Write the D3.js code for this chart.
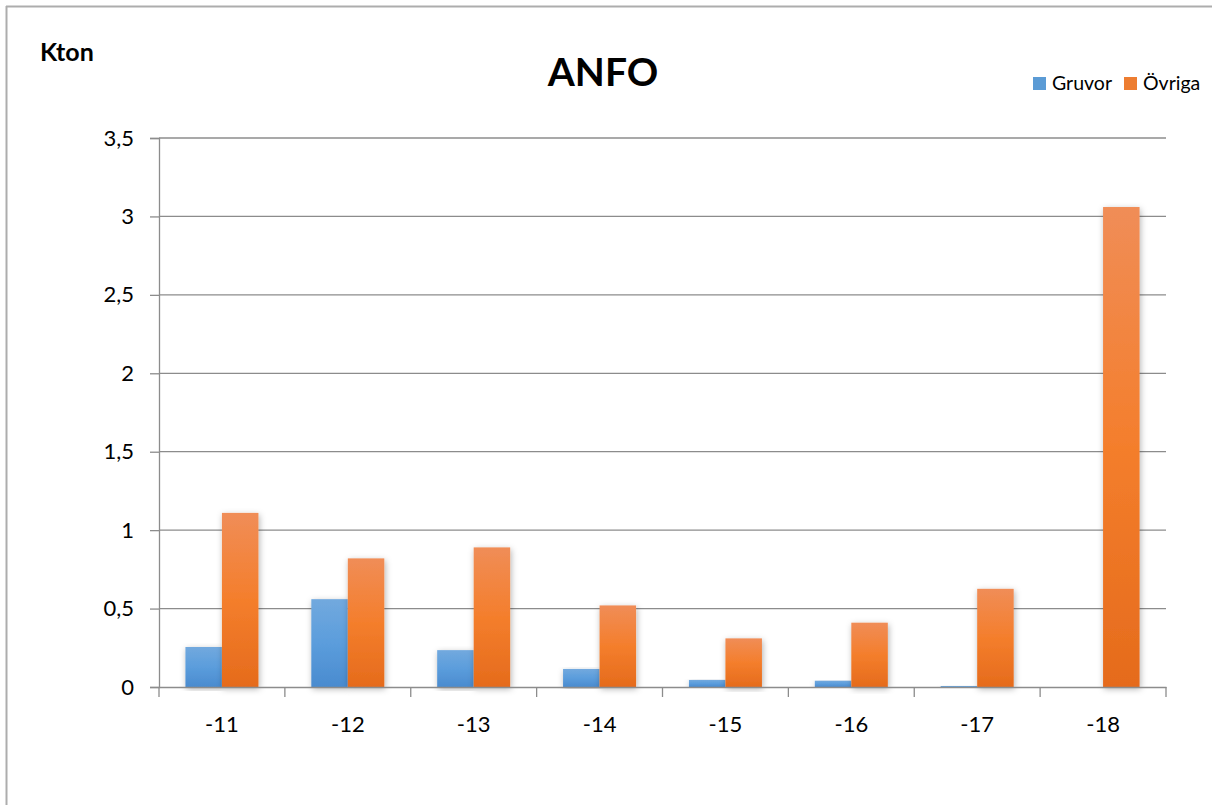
<!DOCTYPE html>
<html>
<head>
<meta charset="utf-8">
<script src="https://cdn.jsdelivr.net/npm/d3@7"></script>
<style>
  html, body { margin: 0; padding: 0; background: #fff; overflow: hidden; }
  svg { display: block; font-family: Lato, "Open Sans", sans-serif; }
</style>
</head>
<body>
<svg id="chart" width="1212" height="805"></svg>
<script>
// ---- data ----
const categories = ["-11", "-12", "-13", "-14", "-15", "-16", "-17", "-18"];
const seriesNames = ["Gruvor", "Övriga"];
const gruvor = [0.255, 0.56, 0.235, 0.115, 0.045, 0.04, 0.006, 0];
const ovriga = [1.11, 0.82, 0.89, 0.52, 0.31, 0.41, 0.626, 3.06];
const yTicks = [0, 0.5, 1, 1.5, 2, 2.5, 3, 3.5];
const yTickLabels = ["0", "0,5", "1", "1,5", "2", "2,5", "3", "3,5"];
const titleText = "ANFO";
const unitText = "Kton";

// ---- layout ----
const svg = d3.select("#chart");
const pL = 159, pR = 1166, pT = 138, pB = 687;

const x = d3.scaleBand().domain(categories).range([pL, pR]).paddingInner(0.42).paddingOuter(0.21);
const xAxisBand = d3.scaleBand().domain(categories).range([pL, pR]).padding(0);
const xs = d3.scaleBand().domain(seriesNames).range([0, x.bandwidth()]).padding(0);
const y = d3.scaleLinear().domain([0, 3.5]).range([pB, pT]);

const defs = svg.append("defs");
const gBlue = defs.append("linearGradient").attr("id", "gBlue").attr("x1", 0).attr("y1", 0).attr("x2", 0).attr("y2", 1);
gBlue.append("stop").attr("offset", "0%").attr("stop-color", "#72A9DE");
gBlue.append("stop").attr("offset", "50%").attr("stop-color", "#5B9DDC");
gBlue.append("stop").attr("offset", "100%").attr("stop-color", "#4A8BCF");
const gOr = defs.append("linearGradient").attr("id", "gOr").attr("x1", 0).attr("y1", 0).attr("x2", 0).attr("y2", 1);
gOr.append("stop").attr("offset", "0%").attr("stop-color", "#F08D57");
gOr.append("stop").attr("offset", "50%").attr("stop-color", "#F47E2C");
gOr.append("stop").attr("offset", "100%").attr("stop-color", "#E56B1C");
const legBlue = "#5B9BD5", legOr = "#ED7D31";

const shadow = defs.append("filter").attr("id", "sh").attr("x", "-30%").attr("y", "-10%").attr("width", "160%").attr("height", "120%");
shadow.append("feDropShadow").attr("dx", 1).attr("dy", 2).attr("stdDeviation", 3).attr("flood-color", "#000").attr("flood-opacity", 0.3);

// border (only top and left edges fall inside the picture)
svg.append("line").attr("x1", 6).attr("x2", 1212).attr("y1", 6.5).attr("y2", 6.5)
  .attr("stroke", "#ADADAD").attr("stroke-width", 2);
svg.append("line").attr("x1", 6.5).attr("x2", 6.5).attr("y1", 6).attr("y2", 805)
  .attr("stroke", "#ADADAD").attr("stroke-width", 2);

// gridlines
svg.append("g").selectAll("line").data(yTicks.slice(1)).join("line")
  .attr("x1", pL).attr("x2", pR)
  .attr("y1", d => y(d)).attr("y2", d => y(d))
  .attr("stroke", "#8C8C8C").attr("stroke-width", 1.3);

// bars
const bars = svg.append("g");
categories.forEach((c, i) => {
  const vals = [gruvor[i], ovriga[i]];
  vals.forEach((v, j) => {
    if (v <= 0) return;
    bars.append("rect")
      .attr("x", x(c) + xs(seriesNames[j]))
      .attr("y", y(v))
      .attr("width", xs.bandwidth())
      .attr("height", Math.max(1, y(0) - y(v)))
      .attr("fill", j === 0 ? "url(#gBlue)" : "url(#gOr)")
      .attr("filter", "url(#sh)");
  });
});

// y axis
const yAxis = d3.axisLeft(y).tickValues(yTicks).tickSize(9).tickPadding(16)
  .tickFormat((d, i) => yTickLabels[i]);
const gy = svg.append("g").attr("transform", `translate(${pL},0)`).call(yAxis);
gy.select(".domain").attr("stroke", "#8C8C8C").attr("stroke-width", 1.3);
gy.selectAll(".tick line").attr("stroke", "#8C8C8C").attr("stroke-width", 1.3);
gy.selectAll("text").attr("font-size", 22).attr("fill", "#000").attr("font-family", "Lato, sans-serif");

// x axis
const xAxis = d3.axisBottom(xAxisBand).tickSize(0).tickPadding(29);
const gx = svg.append("g").attr("transform", `translate(0,${pB})`).call(xAxis);
gx.select(".domain").attr("stroke", "#8C8C8C").attr("stroke-width", 1.3);
gx.selectAll("text").attr("font-size", 22).attr("fill", "#000").attr("font-family", "Lato, sans-serif");
const bounds = categories.map(c => xAxisBand(c)).concat([pR]);
gx.append("g").selectAll("line").data(bounds).join("line")
  .attr("x1", d => d).attr("x2", d => d).attr("y1", 0).attr("y2", 10)
  .attr("stroke", "#8C8C8C").attr("stroke-width", 1.3);

// title
svg.append("text").attr("x", 603).attr("y", 86).attr("text-anchor", "middle")
  .attr("font-size", 39).attr("font-weight", "bold").attr("fill", "#000").text(titleText);
svg.append("text").attr("x", 40).attr("y", 61)
  .attr("font-size", 25).attr("font-weight", "bold").attr("fill", "#000").text(unitText);

// legend
const legend = svg.append("g");
const legX = [1033, 1124];
seriesNames.forEach((s, j) => {
  legend.append("rect").attr("x", legX[j]).attr("y", 77).attr("width", 13).attr("height", 13)
    .attr("fill", j === 0 ? legBlue : legOr);
  legend.append("text").attr("x", legX[j] + 19).attr("y", 90)
    .attr("font-size", 19.5).attr("fill", "#000").text(s);
});
</script>
</body>
</html>
